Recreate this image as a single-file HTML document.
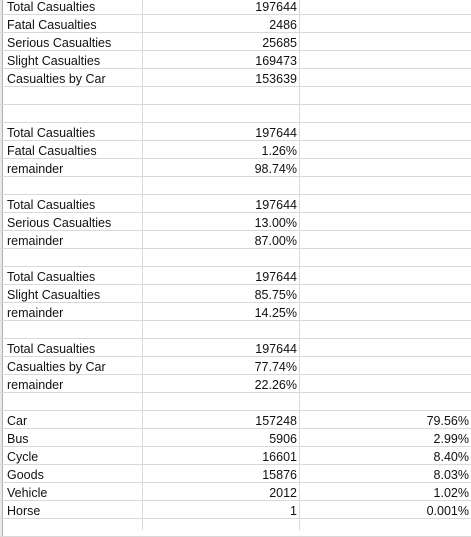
<!DOCTYPE html>
<html><head><meta charset="utf-8"><style>
body{margin:0;width:471px;height:530px;overflow:hidden;background:#fff;font-family:"Liberation Sans",sans-serif;font-size:12.5px;color:#111;position:relative}
.r{position:absolute;left:0;width:471px;height:18px;border-bottom:1px solid #d9d9d9;box-sizing:border-box}
.h{position:absolute;left:0;top:0;width:2px;height:17px;background:#e8e8e8;border-right:1px solid #b0b0b0}
.a{position:absolute;left:7px;top:3px;white-space:nowrap}
.b{position:absolute;right:174px;top:3px}
.c{position:absolute;right:2px;top:3px}
.v1{position:absolute;left:142px;top:0;width:1px;height:530px;background:#d9d9d9}
.v2{position:absolute;left:299px;top:0;width:1px;height:530px;background:#d9d9d9}
</style></head><body>
<div class="v1"></div>
<div class="v2"></div>
<div id="g"></div>
<script>
const labels=["Total Casualties","Fatal Casualties","Serious Casualties","Slight Casualties","Casualties by Car","","","Total Casualties","Fatal Casualties","remainder","","Total Casualties","Serious Casualties","remainder","","Total Casualties","Slight Casualties","remainder","","Total Casualties","Casualties by Car","remainder","","Car","Bus","Cycle","Goods","Vehicle","Horse",""];
const valuesB=["197644","2486","25685","169473","153639","","","197644","1.26%","98.74%","","197644","13.00%","87.00%","","197644","85.75%","14.25%","","197644","77.74%","22.26%","","157248","5906","16601","15876","2012","1",""];
const valuesC=["","","","","","","","","","","","","","","","","","","","","","","","79.56%","2.99%","8.40%","8.03%","1.02%","0.001%",""];
const g=document.getElementById('g');
for(let i=0;i<labels.length;i++){
 const r=document.createElement('div');r.className='r';r.style.top=(-3+18*i)+'px';
 
 
 const h=document.createElement('div');h.className='h';
 
 
 r.appendChild(h);
 const a=document.createElement('div');a.className='a';a.textContent=labels[i];
 
 
 r.appendChild(a);
 const b=document.createElement('div');b.className='b';b.textContent=valuesB[i];
 
 
 r.appendChild(b);
 const c=document.createElement('div');c.className='c';c.textContent=valuesC[i];
 
 
 r.appendChild(c);
 g.appendChild(r);
}
</script>
</body></html>
